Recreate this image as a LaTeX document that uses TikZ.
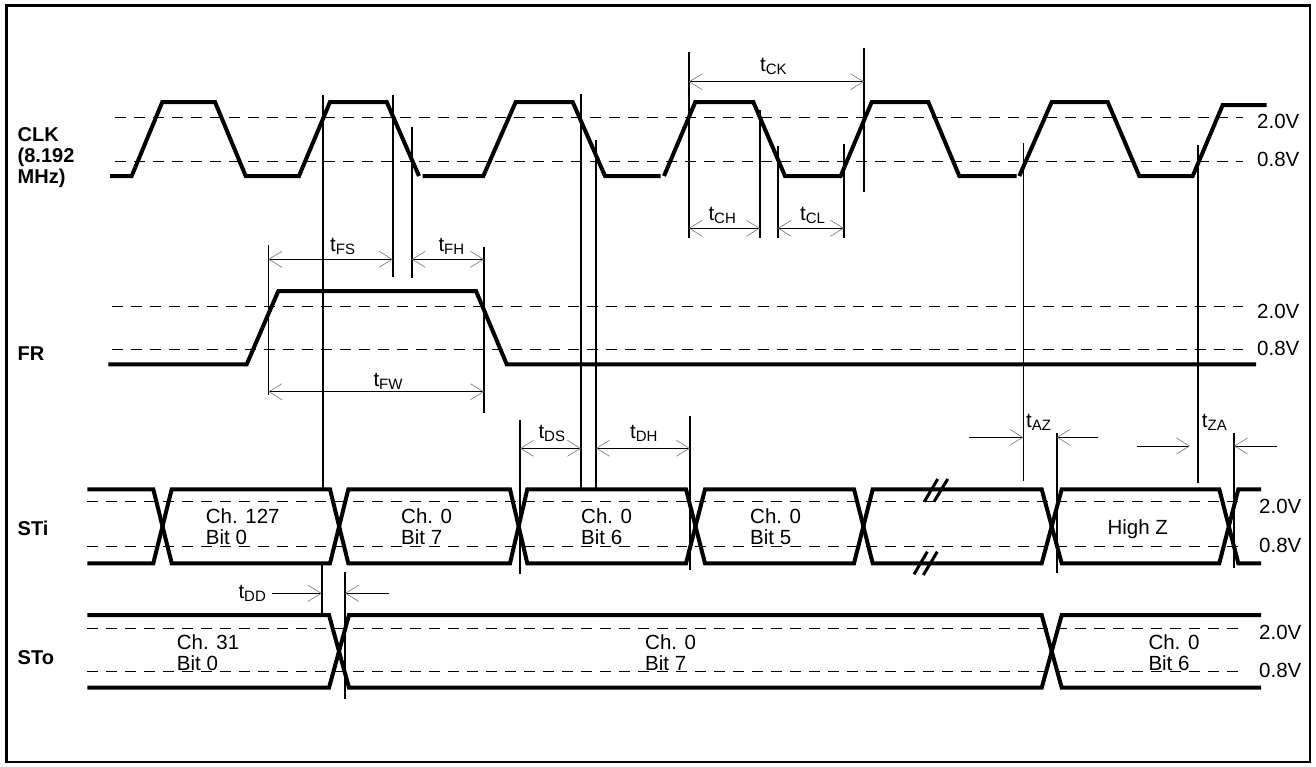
\documentclass[tikz,border=0pt]{standalone}
\usepackage{fontspec}
\setmainfont{Liberation Sans}
\usetikzlibrary{arrows.meta}
\newcommand{\tsub}[1]{t\raisebox{-3pt}{\fontsize{15}{15}\selectfont #1}}
\begin{document}
\begin{tikzpicture}[x=1pt,y=-1pt,
  wave/.style={line width=4pt, line join=miter, line cap=butt},
  vline/.style={line width=1.6pt},
  lvl/.style={line width=0.9pt, dash pattern=on 11pt off 8pt},
  brk/.style={line width=3pt},
  barb/.tip={Straight Barb[length=13pt,width=16pt,line width=0.6pt,color=black!55]},
  dim/.style={line width=0.9pt, barb-barb},
  onearr/.style={line width=0.9pt, -barb},
  txt/.style={inner sep=0pt, anchor=base west, font=\fontsize{20.5}{21}\selectfont},
  sig/.style={inner sep=0pt, anchor=base west, font=\fontsize{20}{21}\selectfont\bfseries},
  tlab/.style={inner sep=0pt, anchor=base west, font=\fontsize{20.5}{21}\selectfont}
]
\useasboundingbox (0,0) rectangle (1316,766);
\fill[white] (0,0) rectangle (1316,766);
\draw[line width=2.5pt] (6.5,5.5) rectangle (1310,762);

% ---------- level lines ----------
\draw[lvl] (115,117.3) -- (1243,117.3);
\draw[lvl] (115,161.7) -- (1243,161.7);
\draw[lvl] (111.7,306.7) -- (1243,306.7);
\draw[lvl] (111.7,349) -- (1243,349);
\draw[lvl] (87.3,501.7) -- (1243,501.7);
\draw[lvl] (87.3,546) -- (1243,546);
\draw[lvl] (87.3,628.3) -- (1243,628.3);
\draw[lvl] (87.3,671) -- (1243,671);

% ---------- CLK ----------
\draw[wave] (110,176) -- (131.7,176) -- (162.3,102) -- (215,102) -- (245.7,176) -- (299,176) -- (330,102) -- (386.7,102) -- (419,176);
\draw[wave] (422.7,176) -- (483.3,176) -- (515.7,102) -- (572.7,102) -- (605,176) -- (660.7,176);
\draw[wave] (664,176) -- (695.3,102) -- (753.3,102) -- (785,176) -- (840.7,176) -- (871.7,102) -- (928.3,102) -- (959.3,176) -- (1016.7,176);
\draw[wave] (1019.3,176) -- (1051.7,102) -- (1107.7,102) -- (1139.3,176) -- (1192.7,176) -- (1222.7,105) -- (1266.7,105);

% ---------- FR ----------
\draw[wave] (108.3,364.3) -- (246.7,364.3) -- (278.3,291) -- (476,291) -- (506.7,364.3) -- (1256,364.3);

% ---------- STi ----------
\draw[wave] (87.3,489.3) -- (153.3,489.3) -- (171.7,563.3) -- (330,563.3) -- (348.3,489.3) -- (510,489.3) -- (527.3,563.3) -- (686,563.3) -- (705,489.3) -- (854,489.3) -- (872.7,563.3) -- (1041.7,563.3) -- (1061.7,489.3) -- (1219.3,489.3) -- (1238.3,563.3) -- (1261,563.3);
\draw[wave] (87.3,563.3) -- (153.3,563.3) -- (171.7,489.3) -- (330,489.3) -- (348.3,563.3) -- (510,563.3) -- (527.3,489.3) -- (686,489.3) -- (705,563.3) -- (854,563.3) -- (872.7,489.3) -- (1041.7,489.3) -- (1061.7,563.3) -- (1219.3,563.3) -- (1238.3,489.3) -- (1261,489.3);
\draw[brk] (924.3,501.7) -- (937.7,479) (934,501.7) -- (947.7,479);
\draw[brk] (914,574.3) -- (927.3,551.7) (923.3,575) -- (937.3,551.7);

% ---------- STo ----------
\draw[wave] (87.3,615) -- (329,615) -- (349,687.7) -- (1041.7,687.7) -- (1061.7,615) -- (1261,615);
\draw[wave] (87.3,687.7) -- (329,687.7) -- (349,615) -- (1041.7,615) -- (1061.7,687.7) -- (1261,687.7);

% ---------- vertical reference lines ----------
\draw[vline] (322.7,95) -- (322.7,489.3);
\draw[vline] (392.7,95) -- (392.7,276.7);
\draw[vline] (411.7,127) -- (411.7,277.7);
\draw[vline] (581,94) -- (581,489.3);
\draw[vline] (596,140) -- (596,489.3);
\draw[vline] (688.7,51.7) -- (688.7,238);
\draw[vline] (760,110) -- (760,238);
\draw[vline] (777.7,146) -- (777.7,238);
\draw[vline] (844,144) -- (844,238);
\draw[vline] (864,48) -- (864,191.7);
\draw[vline] (1023.3,143) -- (1023.3,481);
\draw[vline] (1198,145) -- (1198,483.3);
\draw[vline] (268.3,245) -- (268.3,395);
\draw[vline] (484,247.3) -- (484,412.7);
\draw[vline] (520,420) -- (520,574);
\draw[vline] (690,416) -- (690,570);
\draw[vline] (1056.7,433.3) -- (1056.7,572.7);
\draw[vline] (1234,433.3) -- (1234,568.3);
\draw[vline] (321.7,564) -- (321.7,615);
\draw[vline] (345,572.3) -- (345,699.3);

% ---------- dimension arrows ----------
\draw[dim] (688.7,81.7) -- (864,81.7);
\draw[dim] (688.7,228.3) -- (760,228.3);
\draw[dim] (777.7,228.3) -- (844,228.3);
\draw[dim] (268.3,259.3) -- (392.7,259.3);
\draw[dim] (411.7,259.3) -- (484,259.3);
\draw[dim] (268.3,391.7) -- (484,391.7);
\draw[dim] (520,448.3) -- (581,448.3);
\draw[dim] (596,448.3) -- (690,448.3);
\draw[onearr] (969.3,437.3) -- (1023.3,437.3);
\draw[onearr] (1098.3,437.3) -- (1056.7,437.3);
\draw[onearr] (1136.7,446) -- (1190,446);
\draw[onearr] (1276.7,446) -- (1234,446);
\draw[onearr] (271.7,593.3) -- (321.7,593.3);
\draw[onearr] (389.3,593.3) -- (345,593.3);

% ---------- timing labels ----------
\node[tlab] (tck) at (760,71.7) {\tsub{CK}};
\node[tlab] (tch) at (708.3,220) {\tsub{CH}};
\node[tlab] (tcl) at (800,220) {\tsub{CL}};
\node[tlab] (tfs) at (330,251.7) {\tsub{FS}};
\node[tlab] (tfh) at (438.3,251.7) {\tsub{FH}};
\node[tlab] (tfw) at (373.3,386) {\tsub{FW}};
\node[tlab] (tds) at (538.3,438.3) {\tsub{DS}};
\node[tlab] (tdh) at (630,438.3) {\tsub{DH}};
\node[tlab] (taz) at (1026,427) {\tsub{AZ}};
\node[tlab] (tza) at (1201.7,427) {\tsub{ZA}};
\node[tlab] (tdd) at (238.3,598.3) {\tsub{DD}};

% ---------- signal names ----------
\node[sig] (clka) at (17.5,141.7) {CLK};
\node[sig] (clkb) at (17.5,162.3) {(8.192};
\node[sig] (clkc) at (17.5,183.3) {MHz)};
\node[sig] (fr) at (17.5,360) {FR};
\node[sig] (sti) at (17.5,535) {STi};
\node[sig] (sto) at (17.5,664) {STo};

% ---------- voltage labels ----------
\node[txt] (v1) at (1257,128.3) {2.0V};
\node[txt] (v2) at (1257,166.7) {0.8V};
\node[txt] (v3) at (1257,318) {2.0V};
\node[txt] (v4) at (1257,355) {0.8V};
\node[txt] (v5) at (1259,513.3) {2.0V};
\node[txt] (v6) at (1259,552.7) {0.8V};
\node[txt] (v7) at (1259,639.3) {2.0V};
\node[txt] (v8) at (1259,677.7) {0.8V};

% ---------- data labels ----------
\node[txt] (s1a) at (205.7,523.2) {Ch. 127};
\node[txt] (s1b) at (205.7,544.5) {Bit 0};
\node[txt] (s2a) at (401,523.2) {Ch. 0};
\node[txt] (s2b) at (401,544.5) {Bit 7};
\node[txt] (s3a) at (581,523.2) {Ch. 0};
\node[txt] (s3b) at (581,544.5) {Bit 6};
\node[txt] (s4a) at (750,523.2) {Ch. 0};
\node[txt] (s4b) at (750,544.5) {Bit 5};
\node[txt] (s5) at (1107.3,534) {High Z};
\node[txt] (o1a) at (176.7,649.5) {Ch. 31};
\node[txt] (o1b) at (176.7,670.5) {Bit 0};
\node[txt] (o2a) at (645,649.5) {Ch. 0};
\node[txt] (o2b) at (645,670.5) {Bit 7};
\node[txt] (o3a) at (1148.3,649.5) {Ch. 0};
\node[txt] (o3b) at (1148.3,670.5) {Bit 6};
\end{tikzpicture}
\end{document}
